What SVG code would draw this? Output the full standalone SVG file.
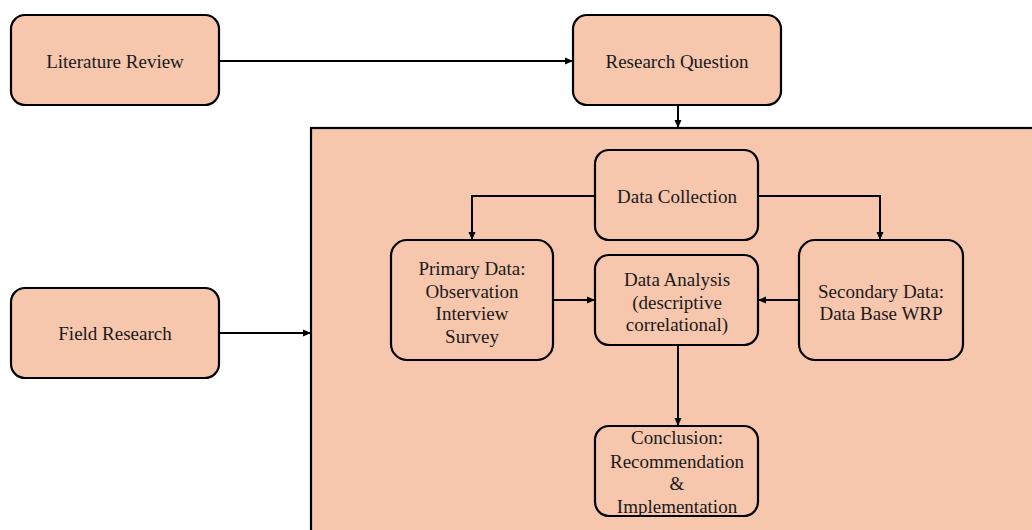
<svg xmlns="http://www.w3.org/2000/svg" width="1032" height="530" viewBox="0 0 1032 530">
<style>
.box{fill:#F6C6AD;stroke:#000;stroke-width:2.2}
.c{fill:none;stroke:#000;stroke-width:2}
</style>
<defs>
<marker id="a" markerWidth="8" markerHeight="8" refX="7" refY="4" orient="auto" markerUnits="userSpaceOnUse">
<path d="M0,0.5 L8,4 L0,7.5 Z" fill="#000"/>
</marker>
</defs>
<rect width="1032" height="530" fill="#fff"/>
<g id="container"><rect x="311" y="128" width="730" height="410" fill="#F6C6AD" stroke="#000" stroke-width="2.2"/></g>
<g id="connectors">
<path class="c" d="M219,61 H572" marker-end="url(#a)"/>
<path class="c" d="M678,105 V127" marker-end="url(#a)"/>
<path class="c" d="M219,333 H310" marker-end="url(#a)"/>
<path class="c" d="M595,196 H472 V239" marker-end="url(#a)"/>
<path class="c" d="M758,196 H880 V239" marker-end="url(#a)"/>
<path class="c" d="M553,300 H594" marker-end="url(#a)"/>
<path class="c" d="M799,300 H759" marker-end="url(#a)"/>
<path class="c" d="M678,345 V425" marker-end="url(#a)"/>
</g>
<g font-family="'Liberation Serif', 'Times New Roman', serif" font-size="19" fill="#1a1a1a" text-anchor="middle" dominant-baseline="central">
<g id="literature-review"><rect class="box" x="11" y="15" width="208" height="90" rx="14"/><text x="115" y="61">Literature Review</text></g>
<g id="research-question"><rect class="box" x="573" y="15" width="208" height="90" rx="14"/><text x="677" y="61">Research Question</text></g>
<g id="field-research"><rect class="box" x="11" y="288" width="208" height="90" rx="14"/><text x="115" y="333">Field Research</text></g>
<g id="data-collection"><rect class="box" x="595" y="150" width="163" height="90" rx="14"/><text x="677" y="196">Data Collection</text></g>
<g id="primary-data"><rect class="box" x="391" y="240" width="162" height="120" rx="16"/>
<text x="472" y="268">Primary Data:</text><text x="472" y="291">Observation</text><text x="472" y="313">Interview</text><text x="472" y="336">Survey</text></g>
<g id="data-analysis"><rect class="box" x="595" y="255" width="163" height="90" rx="14"/>
<text x="677" y="279">Data Analysis</text><text x="677" y="302">(descriptive</text><text x="677" y="324">correlational)</text></g>
<g id="secondary-data"><rect class="box" x="799" y="240" width="164" height="120" rx="16"/>
<text x="881" y="291">Secondary Data:</text><text x="881" y="313">Data Base WRP</text></g>
<g id="conclusion"><rect class="box" x="595" y="426" width="163" height="90" rx="14"/>
<text x="677" y="437">Conclusion:</text><text x="677" y="461">Recommendation</text><text x="677" y="483">&amp;</text><text x="677" y="506">Implementation</text></g>
</g>
</svg>
